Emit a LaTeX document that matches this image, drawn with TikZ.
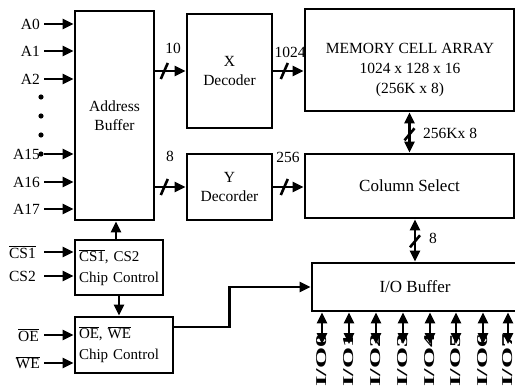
\documentclass[tikz,border=0pt]{standalone}
\usepackage{fontspec}
\setmainfont{Liberation Serif}
\usetikzlibrary{arrows.meta}
\newcommand{\olbar}[1]{$\overline{\mbox{#1}}$}
\tikzset{
  box/.style={draw, line width=2.6pt, inner sep=0pt, align=center, font=\fontsize{15.5}{19}\selectfont},
  ccbox/.style={box, inner xsep=4pt, align=left, font=\fontsize{15}{21}\selectfont},
  lbl/.style={inner sep=0pt, font=\fontsize{15.5}{19}\selectfont},
  iolbl/.style={inner sep=0pt, rotate=90, anchor=west, font=\bfseries\fontsize{15}{15}\selectfont},
  arr/.style={line width=2.4pt, -{Triangle[length=11pt,width=10pt]}},
  darr/.style={line width=2.4pt, {Triangle[length=11pt,width=10pt]}-{Triangle[length=11pt,width=10pt]}},
  busmark/.style={line width=2.6pt},
}
\begin{document}
\begin{tikzpicture}[x=1pt,y=-1pt]
\clip (0,0) rectangle (515,390);
% blocks
\node[box, minimum width=79pt, minimum height=209pt] (ab) at (114.5,115.5) {Address\\Buffer};
\node[box, minimum width=85pt, minimum height=114pt] (xd) at (229.5,71) {X\\Decoder};
\node[box, minimum width=85pt, minimum height=66pt] (yd) at (229.5,187) {Y\\Decorder};
\node[box, minimum width=209pt, minimum height=102pt] (mem) at (409.5,60) {};
\node[lbl, align=center, font=\fontsize{15.5}{20}\selectfont] (memt) at (410,70) {MEMORY CELL ARRAY\\1024 x 128 x 16\\(256K x 8)};
\node[box, minimum width=209pt, minimum height=64pt, font=\fontsize{17}{19}\selectfont] (cs) at (409.5,186) {Column Select};
\node[box, minimum width=206pt, minimum height=48pt, font=\fontsize{17}{19}\selectfont] (io) at (415,287) {I/O Buffer};
\node[ccbox, minimum height=55pt, text width=80pt] (cc1) at (119,267.5) {\mbox{\olbar{CS1}, CS2}\\\mbox{Chip Control}};
\node[ccbox, minimum height=56pt, text width=90pt] (cc2) at (124,345) {\mbox{\olbar{OE}, \olbar{WE}}\\\mbox{Chip Control}};
% address inputs
\foreach \n/\y in {A0/24, A1/51, A2/79, A15/154, A16/182, A17/209}{
  \node[lbl, anchor=east] (in\n) at (40,\y) {\n};
  \draw[arr, shorten <=4pt] (in\n.east) -- (in\n.east -| ab.west);
}
\foreach \y in {97,116,135,154}{ \fill (41,\y) circle (2.6pt); }
% control inputs
\node[lbl, anchor=east] (ncs1) at (36,252) {\olbar{CS1}};
\draw[arr, shorten <=8pt] (ncs1.east) -- (ncs1.east -| cc1.west);
\node[lbl, anchor=east] (ncs2) at (36,276) {CS2};
\draw[arr, shorten <=8pt] (ncs2.east) -- (ncs2.east -| cc1.west);
\node[lbl, anchor=east] (noe) at (39,335) {\olbar{OE}};
\draw[arr, shorten <=5pt] (noe.east) -- (noe.east -| cc2.west);
\node[lbl, anchor=east] (nwe) at (40,363) {\olbar{WE}};
\draw[arr, shorten <=4pt] (nwe.east) -- (nwe.east -| cc2.west);
% buses
\draw[arr] (ab.east |- xd.west) -- (xd.west);
\path (ab.east |- xd.west) ++(9,0) coordinate (s1);
\draw[busmark] (s1) ++(-3.5,8) -- ++(7,-16);
\node[lbl] (l10) at (173,48) {10};
\draw[arr] (ab.east |- yd.west) -- (yd.west);
\path (ab.east |- yd.west) ++(9,0) coordinate (s2);
\draw[busmark] (s2) ++(-3.5,8) -- ++(7,-16);
\node[lbl] (l8a) at (170,156) {8};
\draw[arr] (xd.east) -- (xd.east -| mem.west);
\path (xd.east) ++(11,0) coordinate (s3);
\draw[busmark] (s3) ++(-3.5,8) -- ++(7,-16);
\node[lbl] (l1024) at (290,52) {1024};
\draw[arr] (yd.east) -- (yd.east -| cs.west);
\path (yd.east) ++(11,0) coordinate (s4);
\draw[busmark] (s4) ++(-3.5,8) -- ++(7,-16);
\node[lbl] (l256) at (288,157) {256};
\draw[darr] (mem.south) -- (cs.north);
\path (mem.south) ++(0,22) coordinate (s5);
\draw[busmark] (s5) ++(-5,6) -- ++(10,-12);
\node[lbl, anchor=west] (l256k) at (423,133) {256Kx 8};
\draw[darr] (io.north |- cs.south) -- (io.north);
\path (io.north |- cs.south) ++(0,22) coordinate (s6);
\draw[busmark] (s6) ++(-5,6) -- ++(10,-12);
\node[lbl] (l8b) at (433,238) {8};
% control
\draw[arr] ([xshift=-3pt]cc1.north) -- ([xshift=-3pt]cc1.north |- ab.south);
\draw[arr] (cc1.south) -- (cc1.south |- cc2.north);
\draw[arr, line join=miter] ([yshift=18pt]cc2.east) -- ++(55,0) |- (io.west);
% I/O pins
\foreach \i/\x in {0/322,1/349,2/376,3/403,4/430,5/456,6/483,7/508}{
  \node[iolbl] (p\i) at (\x,387) {\scalebox{1.8}[1]{I/O\i}};
  \draw[darr] (p\i.east |- io.south) -- ([yshift=-10pt]p\i.east);
}
\end{tikzpicture}
\end{document}
